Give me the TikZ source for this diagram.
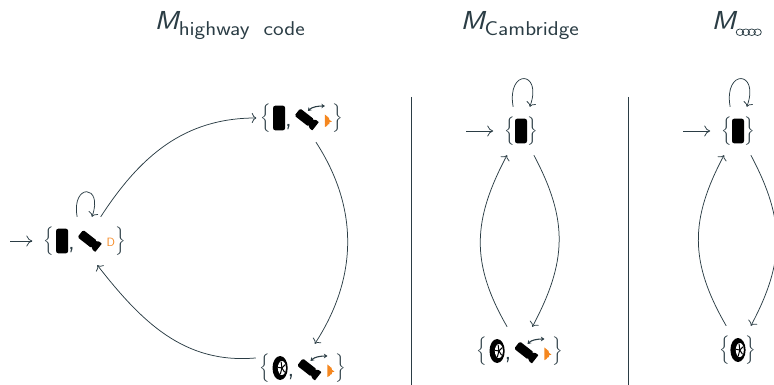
\documentclass[tikz,border=0pt]{standalone}
\usepackage{amsmath}
\usepackage{fontspec}
\usetikzlibrary{arrows.meta}
\definecolor{ink}{HTML}{2B3D45}
\definecolor{lampc}{HTML}{F5871F}
\newcommand{\icphone}{\vcenter{\hbox{\tikz[x=1pt,y=1pt]{\fill[black,rounded corners=2.2pt] (-6,-12.3) rectangle (6,12.3);}}}}
\newcommand{\ictyre}{\vcenter{\hbox{\tikz[x=1pt,y=1pt]{
  \fill[black] (0,0) ellipse[x radius=7.6,y radius=12];
  \fill[white] (1.8,0) ellipse[x radius=4,y radius=7];
  \foreach \a in {0,72,144,216,288}{\draw[black,line width=1pt] (1.8,0) -- ++({3.7*cos(\a+30)},{6.4*sin(\a+30)});}
  \fill[black] (1.8,0) circle(0.9);
}}}}
\newcommand{\icstick}{
  \begin{scope}[rotate=-38,scale=1.1]
    \fill[black,rounded corners=1.5pt] (-11,-4.2) rectangle (5,4.2);
    \fill[black,rounded corners=0.5pt] (4,-3) -- (7,-4.8) -- (10,-4.8) -- (10,4.8) -- (7,4.8) -- (4,3) -- cycle;
  \end{scope}}
\newcommand{\icbeam}{\vcenter{\hbox{\tikz[x=1pt,y=1pt]{
  \useasboundingbox (-10,-11) rectangle (26,14);
  \icstick
  \draw[ink,line width=1.1pt,{Stealth[length=3.5pt,width=4.5pt]}-{Stealth[length=3.5pt,width=4.5pt]}] (1,8.5) .. controls (5,12.5) and (11,13.5) .. (18,13.5);
  \begin{scope}[xshift=3pt]
  \fill[lampc] (15,-7.5) -- (17,-6.5) -- (18,-5) -- (19.5,-4.5) -- (19.3,-3) -- (22,-2) -- (19.5,-0.4) -- (19,1.6) -- (17.6,2.8) -- (15,5) -- cycle;
  \end{scope}
}}}}
\newcommand{\icdip}{\vcenter{\hbox{\tikz[x=1pt,y=1pt]{
  \useasboundingbox (-10,-11) rectangle (26,11);
  \icstick
  \node[inner sep=0pt,text=lampc,font=\sffamily\fontsize{12}{12}\selectfont] at (21,-1) {D};
}}}}
\newcommand{\icaudi}{\tikz[x=1pt,y=1pt,baseline=-1.5pt]{\foreach \i in {0,1,2,3}{\draw[ink,line width=0.7pt] (5.2*\i,0) circle(3.3);}}}
\newcommand{\sep}{\mbox{\fontsize{26}{26}\selectfont\raisebox{-5pt}{,}}\hspace{5pt}}
\newcommand{\lb}{\vcenter{\hbox{\scalebox{1.1}{$\Big\{$}}}}
\newcommand{\rb}{\vcenter{\hbox{\scalebox{1.1}{$\Big\}$}}}}
\newcommand{\subt}[1]{\mbox{\sffamily\fontsize{20}{24}\selectfont #1}}
\newcommand{\wide}[1]{\scalebox{1.13}[1]{#1}}
\tikzset{
  state/.style={inner xsep=4pt,inner ysep=0pt,minimum height=48pt,text=ink,font=\fontsize{14.4}{16}\selectfont\sffamily},
  title/.style={text=ink,inner sep=0pt,anchor=base,font=\fontsize{26}{30}\selectfont\sffamily},
  link/.style={ink,line width=0.75pt,-{Computer Modern Rightarrow[length=4.5pt,width=10pt]}},
  entry/.style={ink,line width=0.75pt,-{Computer Modern Rightarrow[length=6pt,width=11pt]},shorten >=7pt},
  rule/.style={ink,line width=0.7pt}
}
\begin{document}
\begin{tikzpicture}[x=1pt,y=-1pt]
\useasboundingbox (0,0) rectangle (774,385);
\node[title] (t1) at (230,30) {\wide{$\mbox{\itshape M}_{\subt{highway\ \ code}}$}};
\node[title] (t2) at (520,30) {\wide{$\mbox{\itshape M}_{\subt{Cambridge}}$}};
\node[title] (t3) at (737,30) {\wide{$\mbox{\itshape M}_{\icaudi}$}};

\node[state] (a1) at (85,241) {$\lb\hspace{2pt}\icphone\sep\icdip\rb$};
\node[state] (a2) at (302,118) {$\lb\hspace{2pt}\icphone\sep\icbeam\rb$};
\node[state] (a3) at (303,368) {$\lb\hspace{2pt}\ictyre\sep\icbeam\rb$};
\node[state] (b1) at (521,131) {$\lb\icphone\rb$};
\node[state] (b2) at (520,351) {$\lb\hspace{2pt}\ictyre\sep\icbeam\rb$};
\node[state] (c1) at (738,131) {$\lb\icphone\rb$};
\node[state] (c2) at (738,350) {$\lb\ictyre\rb$};

\coordinate (i1) at (10,241);
\coordinate (i2) at (466,131);
\coordinate (i3) at (683,131);
\draw[entry] (i1) -- (a1);
\draw[entry] (i2) -- (b1);
\draw[entry] (i3) -- (c1);

\draw[link] (a1.108) to[out=100,in=70,looseness=6] (a1.74);
\draw[link] (a1.57) to[out=57,in=180,looseness=1] (a2.west);
\draw[link] (a2.-60) to[out=-57,in=57,looseness=1] (a3.64);
\draw[link] (a3.168) to[out=185,in=-52,looseness=1] (a1.-63);

\draw[link] (b1.108) to[out=100,in=70,looseness=6] (b1.70);
\draw[link] (b2.118) to[out=120,in=-118,looseness=1.1] (b1.-120);
\draw[link] (b1.-62) to[out=-62,in=62,looseness=1.1] (b2.63);

\draw[link] (c1.108) to[out=100,in=70,looseness=6] (c1.70);
\draw[link] (c2.116) to[out=120,in=-118,looseness=1.1] (c1.-120);
\draw[link] (c1.-62) to[out=-62,in=62,looseness=1.1] (c2.62);

\coordinate (r1t) at (411,97);
\coordinate (r1b) at (411,385);
\coordinate (r2t) at (628,97);
\coordinate (r2b) at (628,385);
\draw[rule] (r1t) -- (r1b);
\draw[rule] (r2t) -- (r2b);
\end{tikzpicture}
\end{document}
